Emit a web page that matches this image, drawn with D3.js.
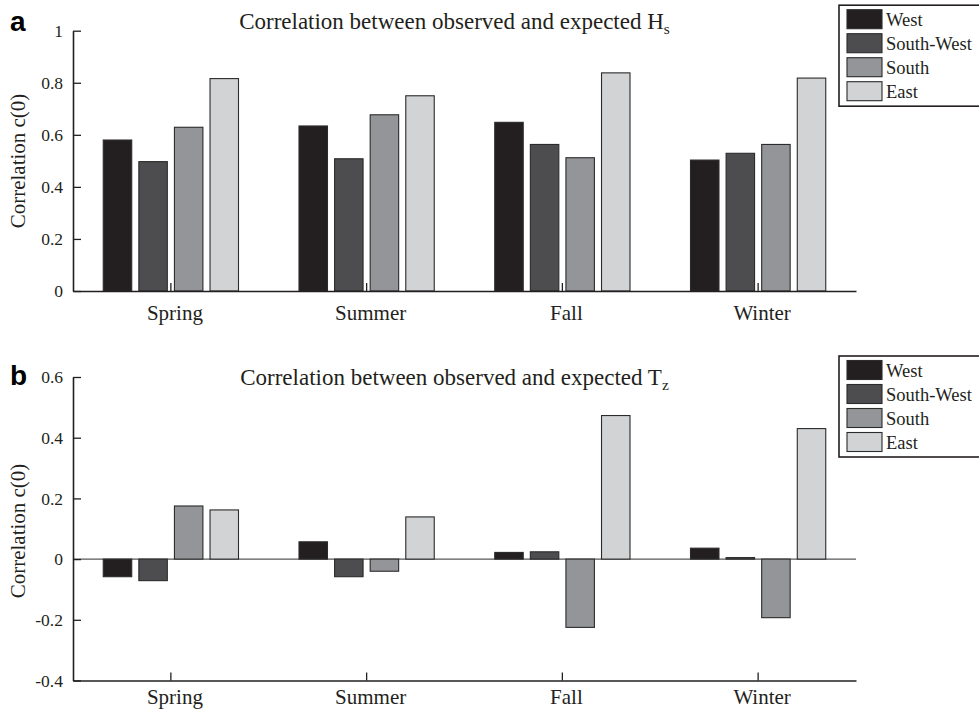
<!DOCTYPE html>
<html>
<head>
<meta charset="utf-8">
<script src="https://cdn.jsdelivr.net/npm/d3@7"></script>
<style>
  html, body { margin: 0; padding: 0; background: #fff; }
  svg { display: block; }
</style>
</head>
<body>
<svg id="chart" width="979" height="710"></svg>
<script>
// Seasons and wave directions
const categories = ["Spring", "Summer", "Fall", "Winter"];
const series = ["West", "South-West", "South", "East"];
const seriesColors = ["#231f20", "#4d4d4f", "#939598", "#d1d3d4"];

// Panel a: correlation c(0) for significant wave height Hs
const hsWest      = [0.580, 0.634, 0.648, 0.503];
const hsSouthWest = [0.497, 0.508, 0.563, 0.529];
const hsSouth     = [0.629, 0.677, 0.512, 0.563];
const hsEast      = [0.816, 0.750, 0.838, 0.818];

// Panel b: correlation c(0) for zero-crossing period Tz
const tzWest      = [-0.058, 0.057, 0.022, 0.036];
const tzSouthWest = [-0.071, -0.058, 0.024, 0.005];
const tzSouth     = [0.175, -0.040, -0.225, -0.193];
const tzEast      = [0.162, 0.139, 0.473, 0.430];

// Tick values and labels
const hsTicks = [0, 0.2, 0.4, 0.6, 0.8, 1];
const hsTickLabels = ["0", "0.2", "0.4", "0.6", "0.8", "1"];
const tzTicks = [-0.4, -0.2, 0, 0.2, 0.4, 0.6];
const tzTickLabels = ["-0.4", "-0.2", "0", "0.2", "0.4", "0.6"];

const svg = d3.select("#chart");
const axisColor = "#231f20";
const serif = "'Liberation Serif', 'Times New Roman', serif";
const sans = "'Liberation Sans', Arial, sans-serif";

function drawPanel(cfg) {
  const g = svg.append("g");
  const x = d3.scaleBand().domain(categories).range([cfg.left, cfg.right]).paddingInner(0).paddingOuter(0);
  const groupW = x.bandwidth() * Math.min(0.8, series.length / (series.length + 1.5));
  const xi = d3.scaleBand().domain(series).range([-groupW / 2, groupW / 2])
    .paddingInner(0.2).paddingOuter(0.1);
  const y = d3.scaleLinear().domain(cfg.domain).range([cfg.bottom, cfg.top]);

  // zero line (behind bars)
  if (cfg.domain[0] < 0) {
    g.append("line")
      .attr("x1", cfg.left).attr("x2", cfg.right)
      .attr("y1", y(0)).attr("y2", y(0))
      .attr("stroke", "#58595b").attr("stroke-width", 1.2);
  }

  // bars
  const rows = [];
  categories.forEach((c, ci) => {
    series.forEach((s, si) => rows.push({ c, s, si, v: cfg.values[si][ci] }));
  });
  g.append("g").selectAll("rect").data(rows).join("rect")
    .attr("x", d => x(d.c) + x.bandwidth() / 2 + xi(d.s))
    .attr("width", xi.bandwidth())
    .attr("y", d => y(Math.max(0, d.v)))
    .attr("height", d => Math.abs(y(d.v) - y(0)))
    .attr("fill", d => seriesColors[d.si])
    .attr("stroke", "#2b2b2b")
    .attr("stroke-width", 1.1);

  // y axis
  const yAxis = d3.axisLeft(y).tickValues(cfg.ticks)
    .tickFormat((d, i) => cfg.tickLabels[i])
    .tickSizeInner(-8).tickSizeOuter(0).tickPadding(10);
  const ya = g.append("g").attr("transform", `translate(${cfg.left},0)`).call(yAxis)
    .attr("font-family", serif).attr("font-size", 17.5);
  ya.select(".domain").attr("stroke", axisColor).attr("stroke-width", 1.6);
  ya.selectAll(".tick line").attr("stroke", axisColor).attr("stroke-width", 1.3);
  ya.selectAll(".tick text").attr("fill", axisColor);

  // x axis
  const xAxis = d3.axisBottom(x).tickSizeInner(-8).tickSizeOuter(0).tickPadding(cfg.xPad);
  const xa = g.append("g").attr("transform", `translate(0,${cfg.bottom})`).call(xAxis)
    .attr("font-family", serif).attr("font-size", 21);
  xa.select(".domain").attr("stroke", axisColor).attr("stroke-width", 1.6);
  xa.selectAll(".tick line").attr("stroke", axisColor).attr("stroke-width", 1.3);
  xa.selectAll(".tick text").attr("fill", axisColor).attr("dx", 4);

  // y label
  g.append("text")
    .attr("transform", `translate(${cfg.yLabelX},${cfg.yLabelY}) rotate(-90)`)
    .attr("text-anchor", "middle")
    .attr("font-family", serif).attr("font-size", 21).attr("fill", axisColor)
    .text("Correlation c(0)");

  // title with subscript
  const t = g.append("text")
    .attr("x", (cfg.left + cfg.right) / 2 - 10).attr("y", cfg.titleY)
    .attr("text-anchor", "middle")
    .attr("font-family", serif).attr("font-size", 23).attr("fill", axisColor);
  t.append("tspan").text(cfg.titleMain);
  t.append("tspan").text(cfg.titleSub).attr("font-size", 15.5).attr("dy", 5);

  // panel letter
  g.append("text")
    .attr("x", 10).attr("y", cfg.letterY)
    .attr("font-family", sans)
    .attr("font-weight", "bold").attr("font-size", 28).attr("fill", "#000")
    .text(cfg.letter);

  // legend
  const lg = g.append("g");
  const rowH = 24;
  lg.append("rect")
    .attr("x", 839).attr("y", cfg.legendY - 14)
    .attr("width", 160).attr("height", rowH * 3 + 29)
    .attr("fill", "#fff").attr("stroke", axisColor).attr("stroke-width", 1.6);
  series.forEach((s, i) => {
    const cy = cfg.legendY + i * rowH;
    lg.append("rect")
      .attr("x", 847).attr("y", cy - 9.5).attr("width", 35).attr("height", 19)
      .attr("fill", seriesColors[i]).attr("stroke", "#2b2b2b").attr("stroke-width", 1.1);
    lg.append("text")
      .attr("x", 886).attr("y", cy + 6.5)
      .attr("font-family", serif).attr("font-size", 18.5).attr("fill", axisColor)
      .text(s);
  });
}

drawPanel({
  left: 73, right: 856, top: 30.7, bottom: 291,
  domain: [0, 1], ticks: hsTicks, tickLabels: hsTickLabels,
  values: [hsWest, hsSouthWest, hsSouth, hsEast],
  xPad: 14, yLabelX: 25, yLabelY: 161,
  titleMain: "Correlation between observed and expected H", titleSub: "s", titleY: 29.3,
  letter: "a", letterY: 30.5, legendY: 19.2
});

drawPanel({
  left: 73, right: 856, top: 377, bottom: 680.5,
  domain: [-0.4, 0.6], ticks: tzTicks, tickLabels: tzTickLabels,
  values: [tzWest, tzSouthWest, tzSouth, tzEast],
  xPad: 9, yLabelX: 25, yLabelY: 531,
  titleMain: "Correlation between observed and expected T", titleSub: "z", titleY: 385,
  letter: "b", letterY: 385, legendY: 370
});
</script>
</body>
</html>
